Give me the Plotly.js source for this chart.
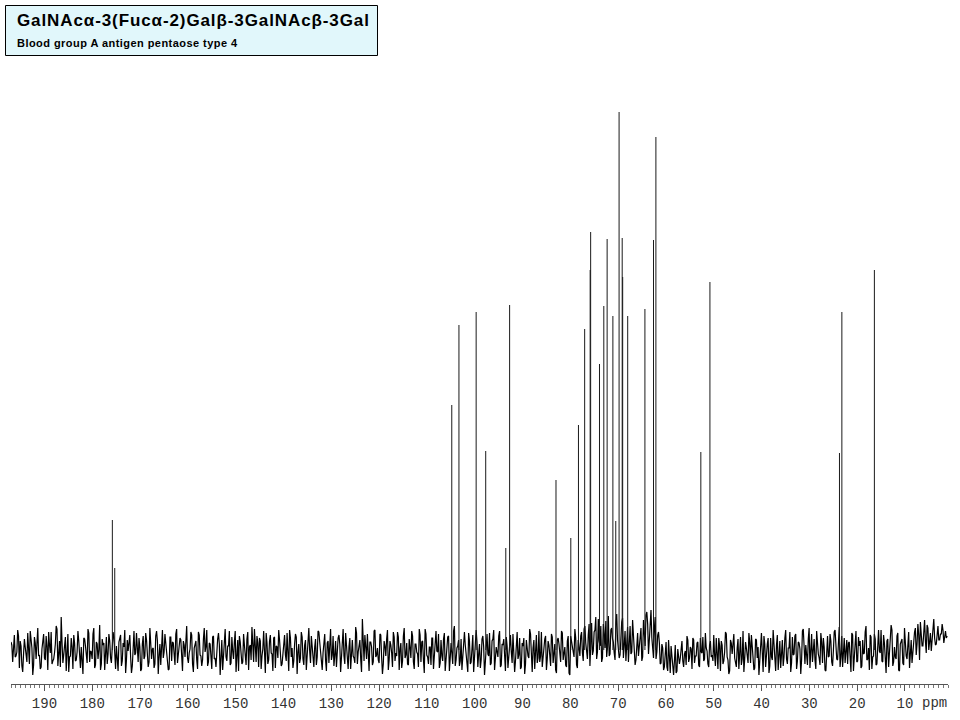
<!DOCTYPE html>
<html>
<head>
<meta charset="utf-8">
<script src="https://cdn.plot.ly/plotly-3.0.1.min.js"></script>
<style>
html,body{margin:0;padding:0;background:#fff;}
#chart{width:960px;height:720px;}
</style>
</head>
<body>
<div id="chart"></div>
<script>
// ---- Data ----
var titleText = "GalNAcα-3(Fucα-2)Galβ-3GalNAcβ-3Gal";
var subtitleText = "Blood group A antigen pentaose type 4";

// Resolved 13C signals: chemical shift (ppm) and peak height (arbitrary units)
var peakPpm = [175.8, 175.3, 104.8, 103.3, 99.7, 97.7, 93.5, 92.7, 83.0, 79.9, 78.3, 77.0,
               75.85, 75.75, 73.9, 73.0, 72.3, 71.1, 70.5, 69.8, 69.15, 69.05, 68.0, 64.4,
               62.6, 62.1, 52.7, 50.8, 23.7, 23.2, 16.4];
var peakHeight = [130, 82, 245, 325, 338, 199, 102, 345, 170, 112, 225, 321,
                  380, 418, 286, 344, 411, 334, 129, 538, 412, 373, 334, 341,
                  410, 513, 198, 368, 197, 338, 380];

// Baseline noise, two interleaved sample sets:
// noiseA at 197 ppm - 0.35*i, noiseB half a step later (196.825 ppm - 0.35*i)
var noiseStartPpm = 197.0;
var noiseStepPpm = 0.35;
var noiseA = [
 8,-12,15,-6,20,-18,4,-22,11,-3,17,-14,6,-25,13,-9,22,-5,-17,10,
 -8,14,-20,5,18,-11,-3,24,-16,9,33,-13,2,-21,16,-7,12,-19,7,-10,
 19,-15,3,-24,11,-6,21,-12,-2,16,-18,8,-9,25,-14,5,-20,13,-4,9,
 -13,18,-7,4,-21,12,-16,7,20,-10,-1,15,-23,9,-5,17,-12,3,-19,14,
 -6,10,-17,22,-9,2,-14,19,-24,6,11,-8,16,-3,-20,13,-11,7,-15,21,
 -4,12,-18,9,-7,24,-13,1,15,-22,8,-10,18,-5,-16,11,-2,20,-12,6,
 -19,14,-8,3,17,-25,10,-6,21,-11,4,-15,13,-9,19,-3,-21,8,-14,16,
 -7,11,-20,5,23,-12,-2,14,-17,9,-6,19,-23,7,-10,15,-4,12,-18,3,
 20,-9,-14,8,-5,17,-21,12,2,-11,16,-24,6,-8,13,-15,10,-3,22,-13,
 5,-17,11,-7,18,-2,-20,14,-10,7,-13,21,-5,-16,9,-1,15,-22,12,-6,
 17,-12,3,-19,10,-8,23,-14,4,-9,31,-11,-4,16,-21,8,-15,19,-7,2,
 -13,15,-24,9,-6,20,-10,5,-17,13,-3,18,-20,7,-11,22,-5,-14,11,-8,
 14,-19,6,-4,21,-12,9,-23,16,-7,3,-15,12,-9,19,-2,-18,10,-11,17,
 -5,13,-21,7,-14,24,-10,4,-16,11,-8,18,-3,-22,9,-12,15,-6,20,-17,
 6,-10,14,-25,8,-4,17,-13,11,-20,3,-7,19,-15,5,-11,13,-18,9,-2,
 16,-22,7,-9,12,-17,4,-24,10,-6,21,-14,2,-19,15,-8,-12,18,-5,11,
 -20,9,-4,16,-13,6,-23,12,-7,19,-10,3,-17,14,-25,8,-2,21,-15,10,
 -6,18,-11,24,-3,15,-16,27,-1,20,-9,31,4,-12,26,2,-7,34,-4,22,
 8,-10,36,3,-5,28,-8,19,6,-12,24,-2,14,-15,9,-6,17,-11,30,4,
 38,-4,25,12,-8,33,-2,18,-14,6,-20,3,-17,10,-23,-6,-25,5,-21,-9,
 -8,9,-17,-1,14,-12,3,-19,10,-6,7,-15,12,-3,-11,17,-1,-17,9,-5,
 15,-16,-3,12,-21,5,-11,18,-7,-24,10,-4,16,-14,2,-19,13,-9,-22,8,
 -6,17,-13,4,-20,11,-8,-25,9,-2,14,-17,6,-23,12,-10,3,-21,15,-5,
 -18,10,-7,20,-14,2,-22,13,-4,16,-11,7,-24,19,-9,5,-15,22,-3,-12,
 11,-19,6,-8,17,-13,3,-21,14,-6,9,-16,18,-2,-10,23,-7,-17,12,-4,
 -14,8,-22,15,-5,19,-11,4,-18,10,-3,24,-9,-20,13,-7,16,-15,6,-1,
 20,-12,7,-23,11,-4,25,-16,3,-9,17,-21,8,-13,22,-6,14,-18,10,-2,
 18,-5,26,-10,12,4,30,-3,22,8,-1,28,12,6,24,10,16,20,14,12
];
var noiseB = [
 5,11,-7,-2,14,9,-16,-4,3,-12,-8,19,2,-15,7,12,-6,-19,1,16,
 -10,4,18,-3,-14,-9,6,21,-1,-17,8,-5,13,10,-22,-6,3,15,-11,-2,
 9,-18,-7,12,4,-13,17,-1,-9,22,-15,6,0,-20,11,7,-4,-14,16,-8,
 2,13,-19,-5,8,15,-11,3,-23,10,5,-7,-16,19,-3,1,12,-21,6,-9,
 17,-4,-12,7,1,-18,14,9,-6,-15,20,-2,4,-11,-19,13,8,-5,16,-13,
 -1,10,-21,5,12,-8,-3,18,-14,2,9,-19,15,-6,-10,22,3,-16,7,-4,
 13,-9,-17,11,6,-2,-20,16,-7,4,19,-13,-1,8,-22,10,14,-6,-12,5,
 -15,18,3,-10,-5,21,-12,7,12,-19,1,-6,17,-14,9,-3,-21,13,4,-8,
 10,-16,-4,15,-11,2,20,-7,-18,6,13,-2,-13,18,-9,5,-20,11,-1,14,
 -7,3,-15,19,8,-12,-3,16,-21,9,2,-10,14,-5,-17,12,6,-8,21,-14,
 1,-19,12,7,-6,-13,17,-2,10,-22,4,15,-9,-16,8,3,-12,20,-5,-10,
 16,-7,-14,4,11,-20,9,-3,18,-11,-6,13,1,-18,14,-8,7,-15,2,19,
 -12,6,-2,-17,15,8,-10,21,-5,-14,3,12,-19,9,-1,16,-13,-6,11,-21,
 7,14,-8,-3,19,-16,2,10,-11,-20,13,5,-7,17,-14,1,-22,12,8,-4,
 -18,11,3,-12,16,-6,-15,9,20,-9,-2,14,-17,6,11,-21,4,-8,15,-13,
 2,-11,18,-5,-19,7,12,-14,1,-8,16,-22,10,3,-13,19,-6,-17,8,14,
 -9,5,-16,13,-2,-20,10,6,-12,17,-4,-15,9,-23,14,2,-7,12,-18,4,
 14,-3,21,7,-9,26,12,-5,18,33,-2,9,24,-8,16,29,3,-6,20,11,
 -3,27,10,-8,19,32,5,-11,23,14,-4,30,8,-10,17,4,22,-7,13,35,
 26,10,40,3,21,-9,15,7,-13,2,-17,8,-21,-5,4,-19,-11,-23,1,-14,
 7,-11,-4,-15,10,-8,1,12,-13,-6,8,-17,-2,13,-9,2,-14,5,-7,-11,
 -5,12,-19,4,9,-14,-2,16,-10,-21,7,13,-8,-17,11,-4,-15,19,-9,2,
 -13,8,15,-6,-18,10,3,-11,17,-22,6,-3,12,-16,-7,20,-12,5,-20,9,
 4,-16,12,-9,2,18,-13,-5,14,-19,8,1,-10,21,-14,-6,11,-18,16,-2,
 -10,19,-4,-15,8,12,-20,5,-7,16,-12,-1,20,-9,6,-17,14,-3,-13,10,
 7,-8,17,-21,3,-12,13,9,-16,-4,18,-10,2,15,-19,-6,11,-14,20,-3,
 -11,15,-5,9,-17,3,20,-12,-7,14,-20,6,11,-15,1,-9,18,-4,-13,12,
 22,6,15,28,4,19,9,25,0,17,13,31,5,21,10,16,26,7,19,14
];

// ---- Build traces ----
var noiseX = [], noiseY = [];
noiseA.forEach(function(v, i){
  noiseX.push(noiseStartPpm - noiseStepPpm * i);
  noiseY.push(v);
  if (i < noiseB.length) {
    noiseX.push(noiseStartPpm - noiseStepPpm * (i + 0.5));
    noiseY.push(noiseB[i]);
  }
});

var stickX = [], stickY = [];
peakPpm.forEach(function(p, i){
  stickX.push(p, p, null);
  stickY.push(0, peakHeight[i], null);
});

var traces = [
  {x: noiseX, y: noiseY, type: 'scatter', mode: 'lines',
   line: {color: '#000', width: 1.2}, hoverinfo: 'skip'},
  {x: stickX, y: stickY, type: 'scatter', mode: 'lines',
   line: {color: '#1a1a1a', width: 1}, hoverinfo: 'skip', connectgaps: false}
];

var L = 11, R = 12, T = 95, B = 36;
var plotW = 960 - L - R, plotH = 720 - T - B;
function px(x){ return (x - L) / plotW; }
function py(y){ return (720 - B - y) / plotH; }

var layout = {
  width: 960, height: 720,
  margin: {l: L, r: R, t: T, b: B, pad: 0},
  paper_bgcolor: '#fff', plot_bgcolor: '#fff',
  showlegend: false,
  xaxis: {
    range: [197, 1], showgrid: false, zeroline: false,
    showline: true, linecolor: '#555', linewidth: 1,
    ticks: 'outside', ticklen: 6, tickcolor: '#555', tickwidth: 1,
    tick0: 0, dtick: 10,
    minor: {dtick: 1, ticklen: 3, tickcolor: '#777', tickwidth: 1, ticks: 'outside'},
    tickfont: {family: 'Liberation Mono, monospace', size: 14, color: '#333'},
    fixedrange: true
  },
  yaxis: {
    range: [-34, plotH - 34], visible: false, showgrid: false, zeroline: false, fixedrange: true
  },
  shapes: [
    {type: 'rect', xref: 'paper', yref: 'paper',
     x0: px(5.5), x1: px(377.5), y0: py(55.5), y1: py(5.5),
     line: {color: '#000', width: 1}, fillcolor: '#e1f7fb', layer: 'above'}
  ],
  annotations: [
    {xref: 'paper', yref: 'paper', x: px(15), y: py(21), xanchor: 'left', yanchor: 'middle',
     text: '<b><span style="letter-spacing:0.9px">' + titleText + '</span></b>', showarrow: false,
     font: {family: 'Liberation Sans, Arial, sans-serif', size: 17, color: '#000'}},
    {xref: 'paper', yref: 'paper', x: px(15), y: py(43), xanchor: 'left', yanchor: 'middle',
     text: '<b><span style="letter-spacing:0.45px">' + subtitleText + '</span></b>', showarrow: false,
     font: {family: 'Liberation Sans, Arial, sans-serif', size: 11, color: '#000'}},
    {xref: 'paper', yref: 'paper', x: px(920), y: py(703), xanchor: 'left', yanchor: 'middle',
     text: 'ppm', showarrow: false,
     font: {family: 'Liberation Mono, monospace', size: 14, color: '#333'}}
  ]
};

Plotly.newPlot('chart', traces, layout, {displayModeBar: false, staticPlot: true});
</script>
</body>
</html>
